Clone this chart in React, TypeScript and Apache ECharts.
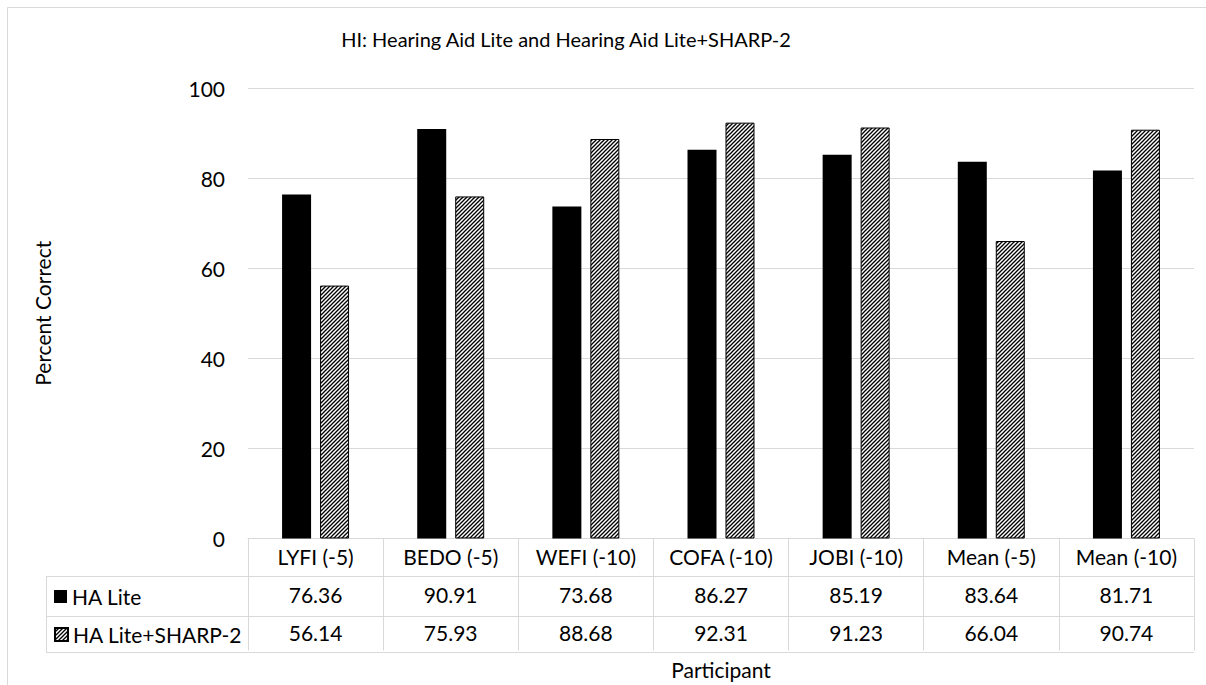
import React, { useEffect, useRef } from 'react';
import * as echarts from 'echarts';

const TITLE = 'HI: Hearing Aid Lite and Hearing Aid Lite+SHARP-2';
const CATEGORIES = ['LYFI (-5)', 'BEDO (-5)', 'WEFI (-10)', 'COFA (-10)', 'JOBI (-10)', 'Mean (-5)', 'Mean (-10)'];
const SERIES_NAMES = ['HA Lite', 'HA Lite+SHARP-2'];
const HA_LITE = [76.36, 90.91, 73.68, 86.27, 85.19, 83.64, 81.71];
const HA_SHARP = [56.14, 75.93, 88.68, 92.31, 91.23, 66.04, 90.74];
const Y_MIN = 0;
const Y_MAX = 100;
const Y_INTERVAL = 20;
const Y_NAME = 'Percent Correct';
const X_NAME = 'Participant';

const FONT = 'Lato, "Open Sans", sans-serif';
const FS = 21;
const TITLE_FS = 20;
const GRID_L = 248;
const GRID_R = 1194;
const GRID_T = 88;
const GRID_B = 540;
const TABLE_L = 46;
const ROW1 = 576;
const ROW2 = 616;
const ROW3 = 652;
const LINE = '#d9d9d9';

function makeHatch(): HTMLCanvasElement {
  const s = 4;
  const c = document.createElement('canvas');
  c.width = s;
  c.height = s;
  const ctx = c.getContext('2d')!;
  ctx.fillStyle = '#ffffff';
  ctx.fillRect(0, 0, s, s);
  ctx.strokeStyle = '#000000';
  ctx.lineWidth = 1.3;
  for (let k = 0; k <= 2; k++) {
    ctx.beginPath();
    ctx.moveTo(-2, k * s + 2);
    ctx.lineTo(k * s + 2, -2);
    ctx.stroke();
  }
  return c;
}

export default function App() {
  const ref = useRef<HTMLDivElement>(null);
  useEffect(() => {
    if (!ref.current) return;
    const chart = echarts.init(ref.current, undefined, { renderer: 'svg' });
    const hatch = { image: makeHatch(), repeat: 'repeat' } as any;
    const legendBase = {
      orient: 'vertical',
      left: 54,
      padding: 0,
      itemWidth: 13,
      itemHeight: 13,
      icon: 'rect',
      selectedMode: false,
      textStyle: { fontSize: FS, fontFamily: FONT, color: '#000', lineHeight: 20 },
    };
    const hiddenAxis = (data: string[], margin: number) => ({
      type: 'category',
      gridIndex: 0,
      position: 'bottom',
      data,
      axisLine: { show: false },
      axisTick: { show: false },
      splitLine: { show: false },
      axisLabel: {
        interval: 0,
        margin,
        verticalAlign: 'middle',
        fontSize: FS,
        fontFamily: FONT,
        color: '#000',
      },
    });
    chart.setOption({
      animation: false,
      backgroundColor: '#fff',
      textStyle: { fontFamily: FONT },
      grid: { left: GRID_L, right: 1206 - GRID_R, top: GRID_T, bottom: 685 - GRID_B, containLabel: false },
      legend: [
        { ...legendBase, data: [SERIES_NAMES[0]], top: (ROW1 + ROW2) / 2 - 10 },
        { ...legendBase, data: [SERIES_NAMES[1]], top: (ROW2 + ROW3) / 2 - 10 },
      ],
      xAxis: [
        {
          type: 'category',
          gridIndex: 0,
          position: 'bottom',
          data: CATEGORIES,
          axisLine: { show: true, lineStyle: { color: LINE, width: 1 } },
          axisTick: { show: true, length: ROW3 - GRID_B, alignWithLabel: false, lineStyle: { color: LINE, width: 1 } },
          axisLabel: {
            interval: 0,
            margin: (ROW1 - GRID_B) / 2,
            verticalAlign: 'middle',
            fontSize: FS,
            fontFamily: FONT,
            color: '#000',
          },
          name: X_NAME,
          nameLocation: 'middle',
          nameGap: 131,
          nameTextStyle: { fontSize: FS, fontFamily: FONT, color: '#000', verticalAlign: 'middle' },
        },
        hiddenAxis(HA_LITE.map((v) => v.toFixed(2)), (ROW1 + ROW2) / 2 - GRID_B),
        hiddenAxis(HA_SHARP.map((v) => v.toFixed(2)), (ROW2 + ROW3) / 2 - GRID_B),
      ],
      yAxis: {
        type: 'value',
        min: Y_MIN,
        max: Y_MAX,
        interval: Y_INTERVAL,
        axisLine: { show: false },
        axisTick: { show: false },
        splitLine: { lineStyle: { color: LINE, width: 1 } },
        axisLabel: { margin: 23, fontSize: FS, fontFamily: FONT, color: '#000' },
        name: Y_NAME,
        nameLocation: 'middle',
        nameGap: 195,
        nameTextStyle: { fontSize: FS, fontFamily: FONT, color: '#000' },
      },
      series: [
        {
          name: SERIES_NAMES[0],
          type: 'bar',
          xAxisIndex: 0,
          data: HA_LITE,
          barWidth: 29,
          barGap: '31%',
          itemStyle: { color: '#000' },
        },
        {
          name: SERIES_NAMES[1],
          type: 'bar',
          xAxisIndex: 0,
          data: HA_SHARP,
          barWidth: 29,
          barGap: '31%',
          itemStyle: { color: hatch, borderColor: '#000', borderWidth: 1 },
        },
      ],
      graphic: [
        {
          type: 'rect',
          shape: { x: 7.5, y: 7.5, width: 1400, height: 900 },
          style: { fill: 'none', stroke: LINE, lineWidth: 1 },
          silent: true,
        },
        {
          type: 'text',
          x: 566,
          y: 39,
          style: {
            text: TITLE,
            fontSize: TITLE_FS,
            fontFamily: FONT,
            fill: '#000',
            align: 'center',
            verticalAlign: 'middle',
          },
        },
        ...[ROW1, ROW2, ROW3].map((y) => ({
          type: 'line',
          shape: { x1: TABLE_L, y1: y + 0.5, x2: GRID_R, y2: y + 0.5 },
          style: { stroke: LINE, lineWidth: 1 },
          silent: true,
        })),
        {
          type: 'line',
          shape: { x1: TABLE_L + 0.5, y1: ROW1, x2: TABLE_L + 0.5, y2: ROW3 + 1 },
          style: { stroke: LINE, lineWidth: 1 },
          silent: true,
        },
      ],
    });
    return () => chart.dispose();
  }, []);
  return <div ref={ref} style={{ width: 1206, height: 685, position: 'absolute', left: 0, top: 0 }} />;
}
